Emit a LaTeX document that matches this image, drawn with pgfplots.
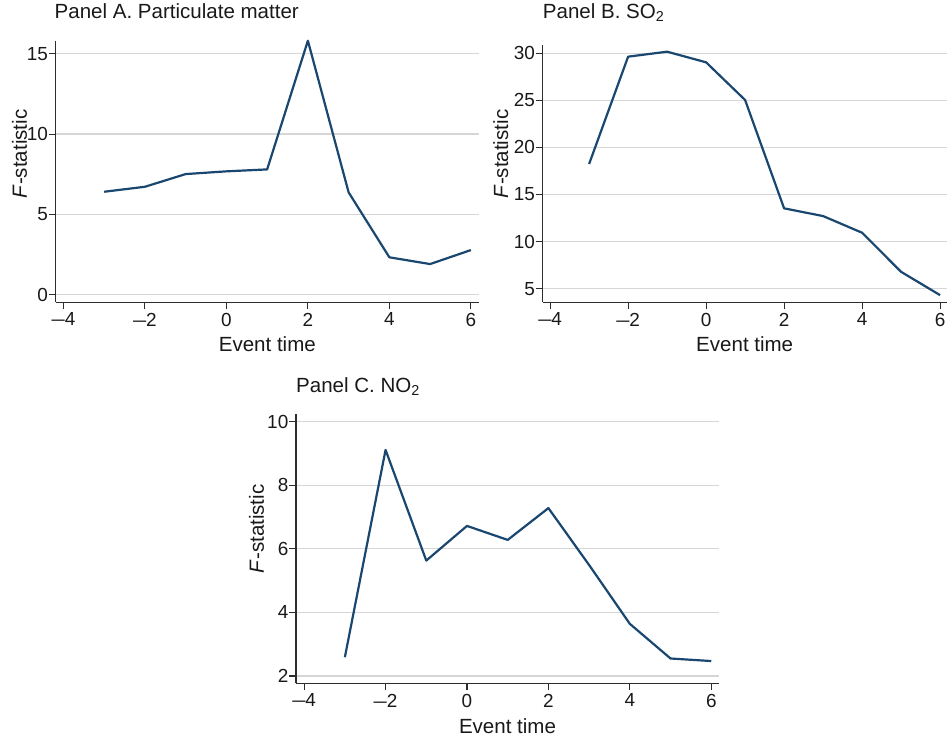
\documentclass[border=0pt]{standalone}
\usepackage{fontspec}
\setmainfont{Liberation Sans}
\usepackage{graphicx}
\usepackage{pgfplots}
\pgfplotsset{compat=1.18}
\definecolor{stnavy}{RGB}{26,71,111}
\definecolor{gridgray}{RGB}{214,214,214}
\definecolor{axgray}{RGB}{45,45,45}
\definecolor{txt}{RGB}{25,25,25}
\newcommand{\mns}{\scalebox{1.25}[1]{\textendash}}

\pgfplotsset{panel/.style={
  scale only axis,
  axis lines=left,
  axis line style={axgray, line width=1.1bp, -},
  ymajorgrids,
  grid style={gridgray, line width=1.2bp},
  tick align=outside,
  major tick length=7bp,
  tick style={axgray, line width=1.1bp},
  xtick={-4,-2,0,2,4,6},
  xticklabels={\mns4,\mns2,0,2,4,6},
  /pgf/number format/assume math mode=true,
  tick label style={font=\fontsize{19}{22}\selectfont, text=txt},
  yticklabel style={inner xsep=0.5bp},
  label style={font=\fontsize{20.6}{24}\selectfont, text=txt},
  title style={font=\fontsize{20.6}{24}\selectfont, text=txt, at={(axis description cs:0,1)}, anchor=base west, inner sep=0pt},
  xlabel={Event time},
  ylabel={\textit{F}-statistic},
  xlabel style={at={(axis description cs:0.5,0)}, anchor=base, inner sep=0pt, yshift=-49.4bp},
  ylabel style={anchor=center, inner sep=0pt},
  clip=false,
  cycle list={{stnavy, line width=2.2bp, mark=none, line join=round}},
}}

\pgfplotstableread{
x y
-3 6.41
-2 6.72
-1 7.51
0 7.68
1 7.80
2 15.81
3 6.37
4 2.33
5 1.91
6 2.78
}\dataA
\pgfplotstableread{
x y
-3 18.24
-2 29.64
-1 30.17
0 29.04
1 25.04
2 13.53
3 12.71
4 10.94
5 6.79
6 4.31
}\dataB
\pgfplotstableread{
x y
-3 2.59
-2 9.11
-1 5.63
0 6.72
1 6.28
2 7.28
3 5.49
4 3.64
5 2.55
6 2.47
}\dataC

\begin{document}
\begin{tikzpicture}
\path[use as bounding box] (0,0) rectangle (947bp,-739bp);
\begin{axis}[panel,
  at={(55.7bp,-302.3bp)}, anchor=south west,
  width=423.3bp, height=261.6bp,
  xmin=-4.19, xmax=6.2, ymin=-0.47, ymax=15.81,
  ytick={0,5,10,15},
  title={Panel A. Particulate matter},
  title style={yshift=16.7bp, xshift=-1.2bp},
  ylabel style={at={(axis description cs:0,0.567)}, yshift=36.2bp},
]
\addplot[stnavy, line width=2.2bp, mark=none, line join=round] table[x=x,y=y]{\dataA};
\end{axis}
\begin{axis}[panel,
  at={(542.7bp,-302.3bp)}, anchor=south west,
  width=404bp, height=257.3bp,
  xmin=-4.19, xmax=6.17, ymin=3.55, ymax=30.88,
  ytick={5,10,15,20,25,30},
  title={Panel B. SO\textsubscript{2}},
  title style={yshift=21bp},
  ylabel style={at={(axis description cs:0,0.576)}, yshift=42bp},
]
\addplot[stnavy, line width=2.2bp, mark=none, line join=round] table[x=x,y=y]{\dataB};
\end{axis}
\begin{axis}[panel,
  at={(296bp,-683.3bp)}, anchor=south west,
  width=423bp, height=269bp,
  xmin=-4.2, xmax=6.19, ymin=1.77, ymax=10.23,
  ytick={2,4,6,8,10},
  title={Panel C. NO\textsubscript{2}},
  title style={yshift=16bp},
  ylabel style={at={(axis description cs:0,0.574)}, yshift=39.5bp},
  xlabel style={yshift=-0.6bp},
]
\addplot[stnavy, line width=2.2bp, mark=none, line join=round] table[x=x,y=y]{\dataC};
\end{axis}
\end{tikzpicture}
\end{document}
